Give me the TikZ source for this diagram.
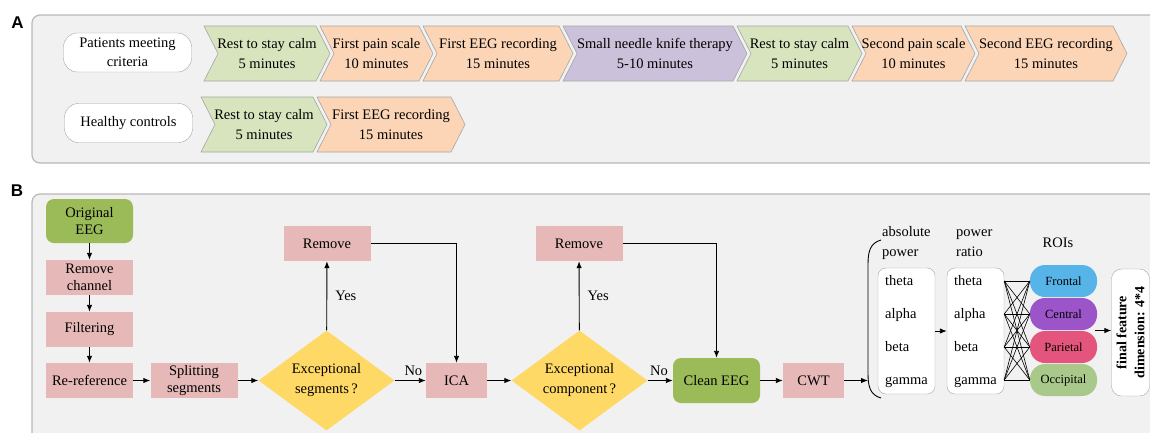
\documentclass[tikz,border=0pt]{standalone}
\usepackage{fontspec}
\setmainfont{Liberation Serif}
\newfontfamily\letterfont{Liberation Sans}
\usetikzlibrary{shapes.geometric,arrows.meta}

\definecolor{panelbg}{HTML}{F1F1F1}
\definecolor{panelline}{HTML}{B8B8B8}
\definecolor{chevline}{HTML}{A6A6A6}
\definecolor{restgreen}{HTML}{D7E4BD}
\definecolor{steporange}{HTML}{FBD5B5}
\definecolor{therapy}{HTML}{CCC1DA}
\definecolor{procpink}{HTML}{E6B9B8}
\definecolor{eeggreen}{HTML}{9BBB59}
\definecolor{decyellow}{HTML}{FFD966}
\definecolor{frontal}{HTML}{56B4E9}
\definecolor{central}{HTML}{9B55C8}
\definecolor{parietal}{HTML}{E4557D}
\definecolor{occipital}{HTML}{A9C98A}

\tikzset{
  panel/.style={draw=panelline, fill=panelbg, line width=1.2pt, rounded corners=8pt},
  chevshape/.style={draw=chevline, line width=0.6pt},
  chevtext/.style={align=center, inner sep=0pt, font=\fontsize{14.5}{20}\selectfont},
  cohort/.style={draw=chevline, fill=white, rounded corners=14pt, minimum width=128pt,
    minimum height=39pt, align=center, inner sep=0pt, font=\fontsize{14.5}{19}\selectfont},
  proc/.style={fill=procpink, minimum width=87pt, minimum height=35pt, align=center,
    inner sep=0pt, font=\fontsize{14.5}{17}\selectfont},
  eeg/.style={proc, fill=eeggreen, rounded corners=8pt},
  decision/.style={diamond, fill=decyellow, minimum width=136pt, minimum height=100pt,
    aspect=1.36, inner sep=0pt, align=center, font=\fontsize{14.5}{20}\selectfont},
  band/.style={draw=chevline, fill=white, rounded corners=8pt, minimum width=57pt,
    minimum height=126pt},
  bandtext/.style={anchor=west, inner sep=0pt, text height=11pt, text depth=2pt,
    font=\fontsize{14.5}{17}\selectfont},
  roi/.style={rounded corners=15pt, minimum width=67pt, minimum height=32pt,
    inner sep=0pt, font=\fontsize{12.5}{15}\selectfont},
  lbl/.style={inner sep=0pt, font=\fontsize{14.5}{20}\selectfont},
  arr/.style={-{Latex[length=7pt,width=5.5pt]}, line width=0.9pt},
  tie/.style={line width=0.6pt},
}

% name, left x, right x, centre y, fill, text
\newcommand\chev[6]{%
  \filldraw[chevshape, fill=#5] (#2,#4-27.5) -- (#3-14,#4-27.5) -- (#3,#4)
    -- (#3-14,#4+27.5) -- (#2,#4+27.5) -- (#2+14,#4) -- cycle;
  \node[chevtext] (#1) at ({(#2+#3)/2},#4) {#6};
}

\begin{document}
\begin{tikzpicture}[x=1pt, y=-1pt]
  \useasboundingbox (0,0) rectangle (1150,432);
  \clip (0,0) rectangle (1150,432);

  % panel A
  \draw[panel] (32,15) rectangle (1180,163);
  \node[font=\letterfont\bfseries\fontsize{17}{20}\selectfont] (labA) at (17.5,23) {A};
  \node[cohort] (patients) at (127.5,52.5) {Patients meeting\\criteria};
  \node[cohort] (healthy) at (128.5,123) {Healthy controls};

  \chev{rest1}{204}{330}{53.5}{restgreen}{Rest to stay calm\\5 minutes}
  \chev{pain1}{320}{433}{53.5}{steporange}{First pain scale\\10 minutes}
  \chev{rec1}{423}{573}{53.5}{steporange}{First EEG recording\\15 minutes}
  \chev{knife}{563}{747}{53.5}{therapy}{Small needle knife therapy\\5-10 minutes}
  \chev{rest2}{737}{862}{53.5}{restgreen}{Rest to stay calm\\5 minutes}
  \chev{pain2}{852}{975}{53.5}{steporange}{Second pain scale\\10 minutes}
  \chev{rec2}{965}{1127}{53.5}{steporange}{Second EEG recording\\15 minutes}

  \chev{hrest}{201}{327}{124.5}{restgreen}{Rest to stay calm\\5 minutes}
  \chev{hrec}{317}{465}{124.5}{steporange}{First EEG recording\\15 minutes}

  % panel B
  \draw[panel] (32,194) rectangle (1180,470);
  \node[font=\letterfont\bfseries\fontsize{17}{20}\selectfont] (labB) at (17,191) {B};

  \node[eeg, minimum height=44pt] (orig) at (89.5,221) {Original\\EEG};
  \node[proc] (chan) at (89.5,277.5) {Remove\\channel};
  \node[proc] (filt) at (89.5,329.5) {Filtering};
  \node[proc] (reref) at (89.5,380.5) {Re-reference};
  \node[proc] (split) at (194,380.5) {Splitting\\segments};
  \node[decision] (segq) at (326.5,380.5) {Exceptional\\segments\,?};
  \node[proc] (remseg) at (327,243.5) {Remove};
  \node[proc, minimum width=61pt] (ica) at (456.5,380.5) {ICA};
  \node[decision] (compq) at (579.5,380.5) {Exceptional\\component\,?};
  \node[proc] (remcomp) at (579,243.5) {Remove};
  \node[eeg, minimum height=45pt] (clean) at (716.5,380.5) {Clean EEG};
  \node[proc, minimum width=61pt] (cwt) at (813.5,380.5) {CWT};

  \draw[arr] (orig) -- (chan);
  \draw[arr] (chan) -- (filt);
  \draw[arr] (filt) -- (reref);
  \draw[arr] (reref) -- (split);
  \draw[arr] (split) -- (segq);
  \draw[arr] (segq) -- node[lbl, above=4pt, pos=0.6] {No} (ica);
  \draw[arr] (segq) -- node[lbl, right=8pt] {Yes} (remseg);
  \draw[arr] (remseg) -| (ica);
  \draw[arr] (ica) -- (compq);
  \draw[arr] (compq) -- node[lbl, above=4pt, pos=0.45] {No} (clean);
  \draw[arr] (compq) -- node[lbl, right=8pt] {Yes} (remcomp);
  \draw[arr] (remcomp) -| (clean);
  \draw[arr] (clean) -- (cwt);

  % features
  \draw[line width=0.9pt] (881,240) .. controls (870,243) and (868,252) .. (868,264)
    -- (868,374) .. controls (868,386) and (870,395) .. (881,398);
  \coordinate (bracetip) at (868,380.5);
  \draw[arr] (cwt) -- (bracetip);

  \node[lbl, anchor=west, align=left] (abstitle) at (882,243) {absolute\\power};
  \node[lbl, anchor=west, align=left] (ratiotitle) at (956,243) {power\\ratio};
  \node[lbl] (roititle) at (1058,243) {ROIs};

  \node[band] (absbox) at (906.5,331) {};
  \node[band] (ratiobox) at (975.5,331) {};
  \foreach \b [count=\i] in {theta,alpha,beta,gamma} {
    \node[bandtext] (ab\i) at (885,248+33*\i) {\b};
    \node[bandtext] (pr\i) at (954,248+33*\i) {\b};
  }
  \draw[arr] (absbox) -- (ratiobox);

  \node[roi, fill=frontal] (front) at (1063.5,281) {Frontal};
  \node[roi, fill=central] (cent) at (1063.5,314) {Central};
  \node[roi, fill=parietal] (pari) at (1063.5,347) {Parietal};
  \node[roi, fill=occipital] (occi) at (1063.5,380) {Occipital};
  \foreach \i in {1,...,4}
    \foreach \r in {front,cent,pari,occi}
      \draw[tie] (pr\i -| ratiobox.east) -- (\r.west);

  \node[draw=chevline, fill=white, rounded corners=10pt, rotate=90, minimum width=127pt,
    minimum height=38pt, align=center, inner sep=0pt,
    font=\bfseries\fontsize{14}{18}\selectfont] (final) at (1130.5,332.5)
    {final feature\\dimension: 4*4};
  \coordinate (roiout) at (1095,330.5);
  \draw[arr] (roiout) -- (roiout -| final.north);
\end{tikzpicture}
\end{document}
